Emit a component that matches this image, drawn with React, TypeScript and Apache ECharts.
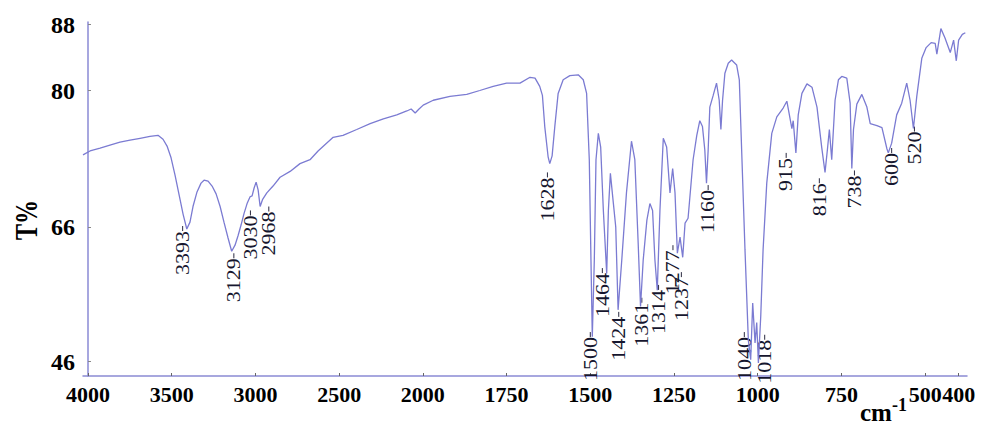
import { useEffect, useRef } from "react";
import * as echarts from "echarts";

// ---- data ----
const wavenumbers = [
  4030, 3988, 3928, 3869, 3809, 3749, 3689, 3630, 3582, 3552,
  3528, 3504, 3480, 3456, 3432, 3410, 3391, 3373, 3349, 3325,
  3307, 3283, 3259, 3235, 3211, 3188, 3164, 3142, 3122, 3104,
  3086, 3068, 3050, 3032, 3020, 3008, 2996, 2984, 2972, 2958,
  2932, 2895, 2853, 2793, 2734, 2674, 2626, 2536, 2477, 2395,
  2315, 2236, 2156, 2096, 2070, 2046, 2023, 1999, 1969, 1919,
  1869, 1830, 1790, 1750, 1710, 1680, 1665, 1651, 1643, 1636,
  1626, 1621, 1614, 1606, 1596, 1581, 1561, 1536, 1521, 1511,
  1503, 1498, 1494, 1488, 1483, 1476, 1469, 1461, 1451, 1446,
  1440, 1431, 1424, 1417, 1406, 1392, 1377, 1367, 1357, 1350,
  1342, 1331, 1322, 1314, 1307, 1300, 1292, 1282, 1272, 1262,
  1254, 1247, 1240, 1232, 1224, 1217, 1208, 1193, 1182, 1173,
  1165, 1158, 1153, 1148, 1143, 1133, 1123, 1115, 1110, 1105,
  1098, 1088, 1078, 1063, 1055, 1048, 1038, 1028, 1021, 1015,
  1008, 1003, 998, 991, 984, 973, 958, 943, 924, 913,
  906, 898, 894, 886, 879, 868, 853, 838, 823, 809,
  799, 792, 786, 779, 769, 759, 749, 734, 724, 719,
  714, 704, 689, 674, 664, 644, 629, 614, 610, 600,
  585, 570, 555, 545, 535, 525, 510, 497, 482, 470,
  465, 453, 441, 425, 415, 407, 400, 389, 380,
];

const transmittance = [
  73.4, 73.8, 74.1, 74.4, 74.7, 74.9, 75.1, 75.3, 75.4, 75.0,
  74.3, 73.1, 71.3, 69.3, 67.3, 65.7, 66.5, 68.1, 69.6, 70.5,
  70.8, 70.7, 70.2, 69.4, 68.1, 66.5, 64.4, 62.4, 63.3, 64.7,
  66.2, 67.4, 68.4, 69.1, 69.2, 70.0, 70.6, 69.8, 68.1, 68.8,
  69.5, 70.2, 71.1, 71.7, 72.5, 72.9, 73.8, 75.2, 75.4, 76.0,
  76.6, 77.1, 77.5, 77.9, 78.1, 77.7, 78.1, 78.5, 79.0, 79.4,
  79.6, 80.0, 80.5, 80.9, 80.9, 81.6, 81.5, 80.5, 79.5, 76.3,
  73.2, 72.5, 73.3, 76.3, 79.7, 81.3, 81.8, 81.9, 81.3, 79.7,
  72.9, 61.1, 49.7, 61.1, 72.9, 75.6, 74.2, 67.7, 59.1, 67.7,
  71.5, 68.4, 66.0, 53.7, 61.1, 69.5, 74.8, 72.9, 63.6, 54.2,
  61.1, 66.7, 68.4, 67.7, 61.1, 56.6, 67.7, 75.1, 74.2, 69.5,
  72.0, 69.5, 62.1, 64.5, 61.5, 66.4, 66.9, 72.9, 75.4, 76.9,
  76.3, 73.9, 70.5, 73.9, 78.3, 79.5, 80.9, 79.0, 76.0, 79.0,
  82.1, 83.3, 83.7, 83.1, 81.3, 73.9, 62.6, 49.2, 46.3, 54.7,
  48.8, 51.8, 45.8, 52.7, 62.6, 70.5, 75.6, 77.3, 78.2, 78.9,
  77.6, 76.1, 76.9, 73.6, 77.5, 79.7, 80.8, 80.4, 78.3, 74.2,
  71.6, 73.9, 76.0, 72.9, 79.0, 81.3, 81.7, 81.5, 78.7, 72.0,
  76.0, 78.6, 79.6, 78.3, 76.6, 76.4, 76.2, 74.0, 73.6, 74.6,
  77.5, 78.7, 80.9, 79.0, 76.1, 79.4, 83.9, 85.2, 85.8, 85.7,
  84.4, 87.5, 86.4, 84.6, 86.1, 83.6, 86.1, 86.8, 87.0,
];

const peakLabels = [3393, 3129, 3030, 2968, 1628, 1500, 1464, 1424, 1361, 1314, 1277, 1237, 1160, 1040, 1018, 915, 816, 738, 600, 520];
const peakT = [66.1, 62.1, 67.7, 68.1, 71.6, 50.4, 59.9, 53.4, 55.5, 57.4, 63.3, 59.3, 70.3, 50.4, 50.0, 73.6, 71.0, 71.8, 74.1, 76.3];

const xTickLabels = [4000, 3500, 3000, 2500, 2000, 1750, 1500, 1250, 1000, 750, 500, 400];
const yTickLabels = [46, 66, 80, 88];
const xRange = [4030, 375];

// label nudges (pixels) so that crowded peak labels sit where the original put them
const LABEL_NUDGE: Record<number, number> = {
  3393: -7, 2968: 8, 1424: 3, 1361: 5, 1314: 6, 1277: 8, 1237: 3, 1160: 4, 1018: 13, 738: 9, 520: -4,
};

// ---- axis scales (split wavenumber scale, non-uniform T% scale as in the original) ----
const toU = (w: number) => (w >= 2000 ? (4000 - w) / 500 : 4 + (2000 - w) / 250);
const fromU = (u: number) => (u <= 4 ? 4000 - 500 * u : 2000 - 250 * (u - 4));

const T_KNOTS = [46, 66, 80, 88];
const V_KNOTS = [14.3, 149, 285.5, 351.5];
function toV(t: number) {
  let i = 0;
  if (t > T_KNOTS[1]) i = 1;
  if (t > T_KNOTS[2]) i = 2;
  const f = (t - T_KNOTS[i]) / (T_KNOTS[i + 1] - T_KNOTS[i]);
  return V_KNOTS[i] + f * (V_KNOTS[i + 1] - V_KNOTS[i]);
}
function fromV(v: number) {
  let i = 0;
  if (v > V_KNOTS[1]) i = 1;
  if (v > V_KNOTS[2]) i = 2;
  const f = (v - V_KNOTS[i]) / (V_KNOTS[i + 1] - V_KNOTS[i]);
  return T_KNOTS[i] + f * (T_KNOTS[i + 1] - T_KNOTS[i]);
}

const SERIF = "'Liberation Serif', 'Times New Roman', serif";
const CURVE = "#7b7bd2";
const AXIS = "#8a8ad4";

export default function App() {
  const ref = useRef<HTMLDivElement>(null);
  useEffect(() => {
    if (!ref.current) return;
    const chart = echarts.init(ref.current, undefined, { renderer: "svg" });
    const n = Math.min(wavenumbers.length, transmittance.length);
    const line = [] as number[][];
    for (let i = 0; i < n; i++) line.push([toU(wavenumbers[i]), toV(transmittance[i])]);
    const peaks = peakLabels.map((w, i) => [toU(w), toV(peakT[i]), i]);
    const xTicks = xTickLabels.map(toU);
    const yTicks = yTickLabels.map(toV);

    chart.setOption({
      animation: false,
      grid: { left: 83, right: 16, top: 22, bottom: 51 },
      xAxis: {
        type: "value",
        min: toU(xRange[0]),
        max: toU(xRange[1]),
        axisLine: { show: true, lineStyle: { color: AXIS, width: 1.5 } },
        axisTick: { show: true, inside: true, length: 3, customValues: xTicks, lineStyle: { color: "#666" } },
        axisLabel: {
          customValues: xTicks,
          formatter: (v: number) => String(Math.round(fromU(v))),
          color: "#000",
          fontFamily: SERIF,
          fontWeight: "bold",
          fontSize: 22,
          margin: 7,
          hideOverlap: false,
          showMinLabel: true,
          showMaxLabel: true,
        },
        splitLine: { show: false },
      },
      yAxis: {
        type: "value",
        min: 0,
        max: 354,
        axisLine: { show: true, lineStyle: { color: AXIS, width: 1.5 } },
        axisTick: { show: true, inside: true, length: 3, customValues: yTicks, lineStyle: { color: "#888" } },
        axisLabel: {
          customValues: yTicks,
          formatter: (v: number) => String(Math.round(fromV(v))),
          color: "#000",
          fontFamily: SERIF,
          fontWeight: "bold",
          fontSize: 24,
          margin: 8,
          showMinLabel: true,
          showMaxLabel: true,
        },
        splitLine: { show: false },
      },
      series: [
        {
          type: "line",
          data: line,
          showSymbol: false,
          silent: true,
          lineStyle: { color: CURVE, width: 1.3 },
        },
        {
          type: "custom",
          data: peaks,
          silent: true,
          renderItem: (params: any, api: any) => {
            const p = api.coord([api.value(0), api.value(1)]);
            const i = api.value(2);
            const label = peakLabels[i];
            const x = p[0] + (LABEL_NUDGE[label] || 0);
            const gap = 5;
            return {
              type: "group",
              children: [
                {
                  type: "line",
                  shape: { x1: x, y1: p[1], x2: x, y2: p[1] + gap },
                  style: { stroke: "#2a2a40", lineWidth: 1 },
                },
                {
                  type: "text",
                  x,
                  y: p[1] + gap,
                  rotation: Math.PI / 2,
                  scaleY: 0.82,
                  style: {
                    text: String(label),
                    font: `22px ${SERIF}`,
                    fill: "#16162e",
                    align: "right",
                    verticalAlign: "middle",
                    textAlign: "right",
                    textVerticalAlign: "middle",
                  },
                },
              ],
            };
          },
        },
      ],
      graphic: [
        {
          type: "text",
          x: 26,
          y: 220,
          rotation: Math.PI / 2,
          scaleX: 0.75,
          style: {
            text: "T%",
            font: `bold 32px ${SERIF}`,
            fill: "#000",
            align: "center",
            verticalAlign: "middle",
            textAlign: "center",
            textVerticalAlign: "middle",
          },
        },
        {
          type: "text",
          x: 860,
          y: 412,
          style: {
            text: "cm",
            font: `bold 25px ${SERIF}`,
            fill: "#000",
            align: "left",
            verticalAlign: "middle",
            textAlign: "left",
            textVerticalAlign: "middle",
          },
        },
        {
          type: "text",
          x: 892,
          y: 405,
          style: {
            text: "-1",
            font: `bold 18px ${SERIF}`,
            fill: "#000",
            align: "left",
            verticalAlign: "middle",
            textAlign: "left",
            textVerticalAlign: "middle",
          },
        },
      ],
    });
    return () => chart.dispose();
  }, []);
  return <div ref={ref} style={{ position: "fixed", left: 0, top: 0, width: 983, height: 427, background: "#fff" }} />;
}
